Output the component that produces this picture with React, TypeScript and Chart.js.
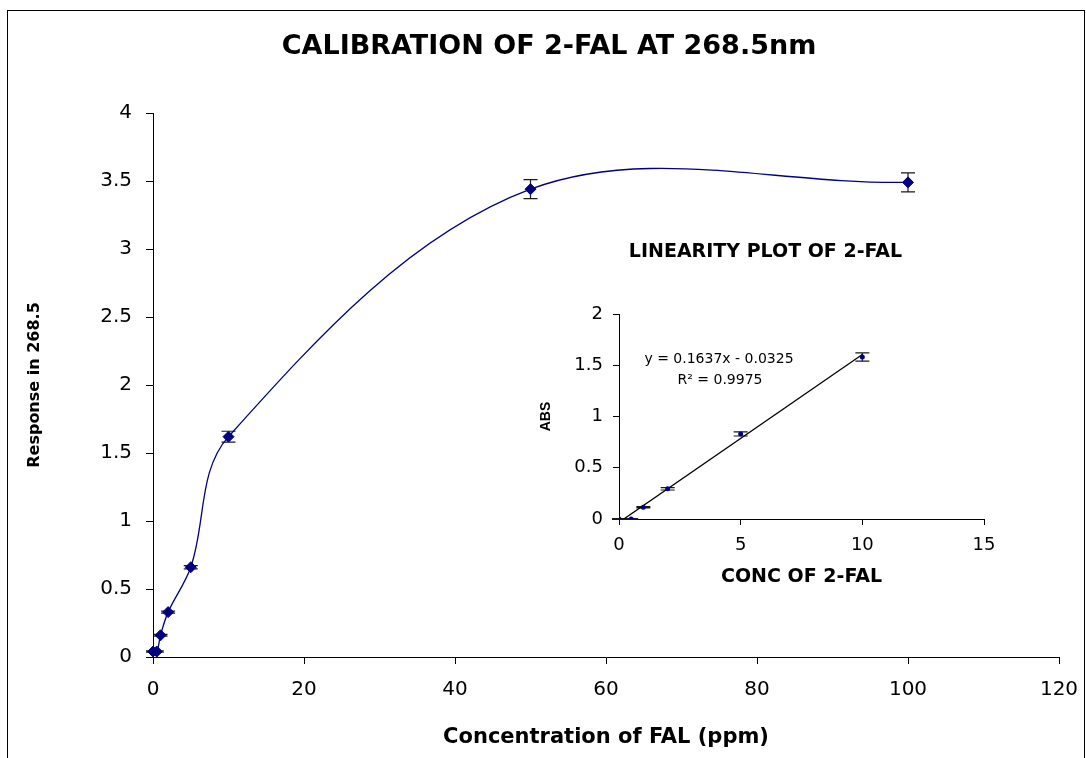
import React, { useEffect, useRef } from "react";
import { Chart, registerables } from "chart.js";

Chart.register(...registerables);

// Calibration series: concentration (ppm) vs response at 268.5 nm
const calConc = [0, 0.5, 1, 2, 5, 10, 50, 100];
const calResp = [0.04, 0.04, 0.16, 0.33, 0.66, 1.62, 3.44, 3.49];
const calErr = [0.005, 0.005, 0.006, 0.008, 0.012, 0.04, 0.07, 0.07];

// Linearity series (low concentration range)
const linConc = [0, 0.5, 1, 2, 5, 10];
const linAbs = [0, 0, 0.115, 0.295, 0.83, 1.58];
const linErr = [0.004, 0.004, 0.006, 0.012, 0.02, 0.04];

// Linear fit stated on the inset
const fitSlope = 0.1637;
const fitIntercept = -0.0325;
const fitR2 = 0.9975;
const fitRange = [0, 10];

// Axis ticks
const mainXTicks = [0, 20, 40, 60, 80, 100, 120];
const mainYTicks = [0, 0.5, 1, 1.5, 2, 2.5, 3, 3.5, 4];
const insetXTicks = [0, 5, 10, 15];
const insetYTicks = [0, 0.5, 1, 1.5, 2];

const WIDE = "'DejaVu Sans', 'Liberation Sans', sans-serif";
const ARIAL = "'Liberation Sans', Arial, sans-serif";
const NAVY = "#000080";
const INK = "#000";

function errorBars(id: string, xs: number[], ys: number[], errs: number[], cap: number) {
  return {
    id,
    beforeDatasetsDraw(chart: any) {
      const { ctx } = chart;
      const sx = chart.scales.x;
      const sy = chart.scales.y;
      ctx.save();
      ctx.strokeStyle = "#1a1a1a";
      ctx.lineWidth = 1.2;
      xs.forEach((xv, i) => {
        const px = sx.getPixelForValue(xv);
        const top = sy.getPixelForValue(ys[i] + errs[i]);
        const bot = sy.getPixelForValue(ys[i] - errs[i]);
        ctx.beginPath();
        ctx.moveTo(px, top);
        ctx.lineTo(px, bot);
        ctx.moveTo(px - cap, top);
        ctx.lineTo(px + cap, top);
        ctx.moveTo(px - cap, bot);
        ctx.lineTo(px + cap, bot);
        ctx.stroke();
      });
      ctx.restore();
    },
  };
}

const fitLabel = {
  id: "fitLabel",
  afterDraw(chart: any) {
    const { ctx, chartArea } = chart;
    const sign = fitIntercept < 0 ? "-" : "+";
    ctx.save();
    ctx.fillStyle = INK;
    ctx.font = `14px ${WIDE}`;
    ctx.textAlign = "center";
    ctx.textBaseline = "middle";
    ctx.fillText(`y = ${fitSlope}x ${sign} ${Math.abs(fitIntercept)}`, chartArea.left + 100, chartArea.top + 45);
    ctx.fillText(`R\u00B2 = ${fitR2}`, chartArea.left + 101, chartArea.top + 66);
    ctx.restore();
  },
};

function axisBase(ticks: number[], tickLen: number, fontSize: number, pad: number, lineHeight = 1.2) {
  return {
    type: "linear" as const,
    min: ticks[0],
    max: ticks[ticks.length - 1],
    afterBuildTicks: (s: any) => {
      s.ticks = ticks.map((v) => ({ value: v }));
    },
    grid: {
      drawOnChartArea: false,
      drawTicks: true,
      tickLength: tickLen,
      tickColor: INK,
      lineWidth: 1,
    },
    border: { display: true, color: INK, width: 1 },
    ticks: {
      color: INK,
      font: { family: WIDE, size: fontSize, lineHeight },
      padding: pad,
      maxRotation: 0,
      autoSkip: false,
      callback: (v: any) => String(v),
    },
  };
}

export default function App() {
  const mainRef = useRef<HTMLCanvasElement>(null);
  const insetRef = useRef<HTMLCanvasElement>(null);

  useEffect(() => {
    const main = new Chart(mainRef.current as HTMLCanvasElement, {
      type: "line",
      data: {
        datasets: [
          {
            data: calConc.map((x, i) => ({ x, y: calResp[i] })),
            borderColor: NAVY,
            backgroundColor: NAVY,
            borderWidth: 1.3,
            pointStyle: "rectRot",
            pointRadius: 5.5,
            pointBorderWidth: 1,
            pointBackgroundColor: NAVY,
            pointBorderColor: NAVY,
            tension: 0.35,
            clip: false as any,
          },
        ],
      },
      options: {
        responsive: false,
        animation: false,
        events: [],
        layout: { padding: { left: 39, right: 27, top: 0, bottom: 0 } },
        plugins: {
          legend: { display: false },
          tooltip: { enabled: false },
          title: {
            display: true,
            text: "CALIBRATION OF 2-FAL AT 268.5nm",
            color: INK,
            font: { family: WIDE, size: 27, weight: "bold" },
            padding: { top: 30.8, bottom: 49.8 },
          },
        },
        scales: {
          x: {
            ...axisBase(mainXTicks, 7, 20, 2, 2.4),
            afterFit: (s: any) => {
              s.height = 101;
            },
            title: {
              display: true,
              text: "Concentration of FAL (ppm)",
              color: INK,
              font: { family: WIDE, size: 21, weight: "bold" },
              padding: { top: 0, bottom: 7.4 },
            },
          },
          y: {
            ...axisBase(mainYTicks, 7, 20, 14),
            afterFit: (s: any) => {
              s.width = 114;
            },
            title: {
              display: true,
              text: "Response in 268.5",
              color: INK,
              font: { family: WIDE, size: 16, weight: "bold" },
              padding: { top: -13.6, bottom: 0 },
            },
          },
        },
      } as any,
      plugins: [errorBars("calErrors", calConc, calResp, calErr, 7)],
    });

    const inset = new Chart(insetRef.current as HTMLCanvasElement, {
      type: "line",
      data: {
        datasets: [
          {
            data: linConc.map((x, i) => ({ x, y: linAbs[i] })),
            showLine: false,
            borderColor: NAVY,
            backgroundColor: NAVY,
            pointStyle: "circle",
            pointRadius: 2.5,
            pointBorderWidth: 0,
          },
          {
            data: fitRange.map((x) => ({ x, y: fitSlope * x + fitIntercept })),
            borderColor: INK,
            borderWidth: 1.3,
            pointRadius: 0,
            tension: 0,
          },
        ],
      },
      options: {
        responsive: false,
        animation: false,
        events: [],
        layout: { padding: { left: 17, right: 17, top: 0, bottom: 0 } },
        plugins: {
          legend: { display: false },
          tooltip: { enabled: false },
          title: {
            display: true,
            text: "LINEARITY PLOT OF 2-FAL",
            color: INK,
            font: { family: WIDE, size: 19, weight: "bold" },
            padding: { top: 15.6, bottom: 50.6 },
          },
        },
        scales: {
          x: {
            ...axisBase(insetXTicks, 6, 18, 1, 2.17),
            afterFit: (s: any) => {
              s.height = 76;
            },
            title: {
              display: true,
              text: "CONC OF 2-FAL",
              color: INK,
              font: { family: WIDE, size: 19, weight: "bold" },
              padding: { top: 0, bottom: 6.6 },
            },
          },
          y: {
            ...axisBase(insetYTicks, 6, 18, 10),
            afterFit: (s: any) => {
              s.width = 72;
            },
            title: {
              display: true,
              text: "ABS",
              color: INK,
              font: { family: ARIAL, size: 14, weight: "bold" },
              padding: { top: -9.4, bottom: 0 },
            },
          },
        },
      } as any,
      plugins: [errorBars("linErrors", linConc, linAbs, linErr, 7), fitLabel],
    });

    return () => {
      main.destroy();
      inset.destroy();
    };
  }, []);

  return (
    <div
      style={{
        position: "absolute",
        left: 0,
        top: 0,
        width: 1086,
        height: 758,
        overflow: "hidden",
        background: "#fff",
      }}
    >
      <div
        style={{
          position: "absolute",
          left: 7,
          top: 10,
          width: 1076,
          height: 800,
          border: "1px solid #000",
        }}
      />
      <canvas
        ref={mainRef}
        width={1086}
        height={758}
        style={{ position: "absolute", left: 0, top: 0, width: 1086, height: 758 }}
      />
      <canvas
        ref={insetRef}
        width={471}
        height={370}
        style={{ position: "absolute", left: 530, top: 225, width: 471, height: 370 }}
      />
    </div>
  );
}
